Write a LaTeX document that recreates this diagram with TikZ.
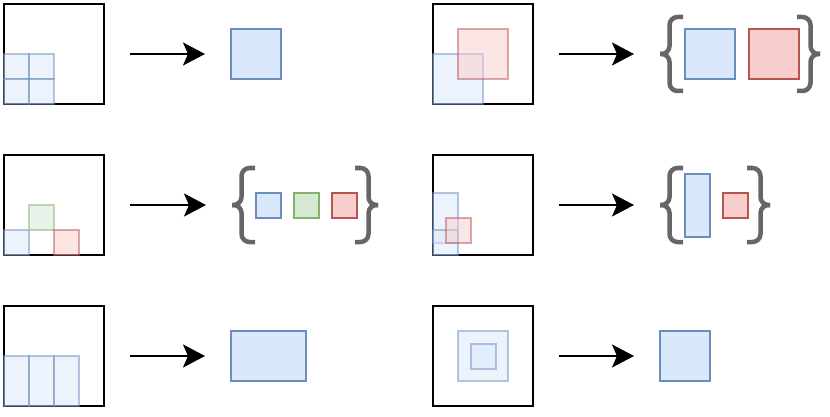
\documentclass[tikz,border=0pt]{standalone}
\usetikzlibrary{arrows.meta,calc}
\definecolor{lblue}{HTML}{DAE8FC}
\definecolor{dblue}{HTML}{6C8EBF}
\definecolor{lred}{HTML}{F8CECC}
\definecolor{dred}{HTML}{B85450}
\definecolor{lgreen}{HTML}{D5E8D4}
\definecolor{dgreen}{HTML}{82B366}
\definecolor{bracegray}{HTML}{666666}
\newcommand\bracepair[1]{%
  \draw[brace] ($(#1.west)+(23,-37)$) -- ($(#1.west)+(9.5,-37)$) -- ($(#1.west)+(9.5,0)$) -- (#1.west);
  \draw[brace] (#1.west) -- ($(#1.west)+(9.5,0)$) -- ($(#1.west)+(9.5,37)$) -- ($(#1.west)+(23,37)$);
  \draw[brace] ($(#1.east)+(-23,-37)$) -- ($(#1.east)+(-9.5,-37)$) -- ($(#1.east)+(-9.5,0)$) -- (#1.east);
  \draw[brace] (#1.east) -- ($(#1.east)+(-9.5,0)$) -- ($(#1.east)+(-9.5,37)$) -- ($(#1.east)+(-23,37)$);
}
\begin{document}
\begin{tikzpicture}[x=1pt,y=-1pt,
  panel/.style={draw=black,line width=2.2pt,fill=white,minimum width=100pt,minimum height=100pt,inner sep=0pt,outer sep=0pt},
  box/.style={line width=2pt,inner sep=0pt,outer sep=0pt},
  bsq/.style={box,draw=dblue,fill=lblue},
  rsq/.style={box,draw=dred,fill=lred},
  gsq/.style={box,draw=dgreen,fill=lgreen},
  ghost/.style={opacity=0.5},
  wd/.style={minimum width=#1pt},
  ht/.style={minimum height=#1pt},
  grp/.style={inner sep=0pt,outer sep=0pt},
  brace/.style={draw=bracegray,line width=4.5pt,rounded corners=8pt},
  arr/.style={line width=2pt,-{Stealth[length=22pt,width=23pt,inset=5pt]},shorten <=26pt,shorten >=26pt}
]
\useasboundingbox (0,0) rectangle (830,417);

% ---------- Row 1 left ----------
\node[panel] (P1) at (54,54) {};
\node[bsq,ghost,wd=25,ht=25] (a1) at (16.5,66.5) {};
\node[bsq,ghost,wd=25,ht=25] (a2) at (41.5,66.5) {};
\node[bsq,ghost,wd=25,ht=25] (a3) at (16.5,91.5) {};
\node[bsq,ghost,wd=25,ht=25] (a4) at (41.5,91.5) {};
\node[bsq,wd=50,ht=50] (R1) at (256,54) {};
\draw[arr] (P1) -- (R1);

% ---------- Row 1 right ----------
\node[panel] (P2) at (483,54) {};
\node[bsq,ghost,wd=50,ht=50] (b1) at (458,79) {};
\node[rsq,ghost,wd=50,ht=50] (b2) at (483,54) {};
\node[grp,wd=160,ht=78] (G2) at (740,54) {};
\node[bsq,wd=50,ht=50] (g2b) at (710,54) {};
\node[rsq,wd=50,ht=50] (g2r) at (773.5,54) {};
\bracepair{G2}
\draw[arr] (P2) -- (G2);

% ---------- Row 2 left ----------
\node[panel] (P3) at (54,205) {};
\node[bsq,ghost,wd=25,ht=25] (c1) at (16.5,242.5) {};
\node[gsq,ghost,wd=25,ht=25] (c2) at (41.5,217.5) {};
\node[rsq,ghost,wd=25,ht=25] (c3) at (66.5,242.5) {};
\node[grp,wd=146,ht=78] (G3) at (305,205) {};
\node[bsq,wd=25,ht=25] (g3b) at (268.5,205) {};
\node[gsq,wd=25,ht=25] (g3g) at (306.5,205) {};
\node[rsq,wd=25,ht=25] (g3r) at (344.5,205) {};
\bracepair{G3}
\draw[arr] (P3) -- (G3);

% ---------- Row 2 right ----------
\node[panel] (P4) at (483,205) {};
\node[bsq,ghost,wd=25,ht=50] (d1) at (445.5,218) {};
\node[bsq,ghost,wd=25,ht=25] (d2) at (445.5,242.5) {};
\node[rsq,ghost,wd=25,ht=25] (d3) at (458.5,230.5) {};
\node[grp,wd=110,ht=78] (G4) at (715,205) {};
\node[bsq,wd=25,ht=62.5] (g4b) at (697.5,205.5) {};
\node[rsq,wd=25,ht=25] (g4r) at (735.5,205) {};
\bracepair{G4}
\draw[arr] (P4) -- (G4);

% ---------- Row 3 left ----------
\node[panel] (P5) at (54,356) {};
\node[bsq,ghost,wd=25,ht=50] (e1) at (16.5,381) {};
\node[bsq,ghost,wd=25,ht=50] (e2) at (41.5,381) {};
\node[bsq,ghost,wd=25,ht=50] (e3) at (66.5,381) {};
\node[bsq,wd=75,ht=50] (R5) at (268.5,356) {};
\draw[arr] (P5) -- (R5);

% ---------- Row 3 right ----------
\node[panel] (P6) at (483,356) {};
\node[bsq,ghost,wd=50,ht=50] (f1) at (483,356) {};
\node[bsq,ghost,wd=25,ht=25] (f2) at (483.5,356.5) {};
\node[bsq,wd=50,ht=50] (R6) at (685,356) {};
\draw[arr] (P6) -- (R6);
\end{tikzpicture}
\end{document}
